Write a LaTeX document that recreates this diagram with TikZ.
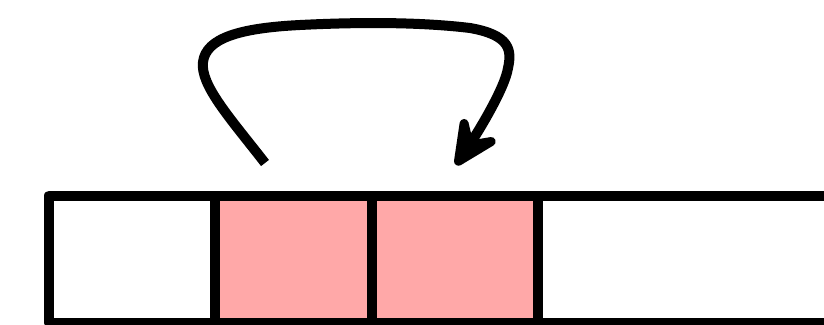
\documentclass[tikz,border=0pt]{standalone}
\usetikzlibrary{positioning,arrows.meta}
\definecolor{cellpink}{RGB}{255,168,168}

\begin{document}
\begin{tikzpicture}[x=1pt,y=-1pt,
	cell/.style={draw, line width=10pt, line join=round, minimum height=127.5pt, inner sep=0pt, outer sep=0pt},
	hot/.style={cell, fill=cellpink},
	jump/.style={line width=10pt, -{Stealth[round,length=64pt,width=60pt,inset=28pt]}}]
	\useasboundingbox (0,0) rectangle (824,324);
	\clip (0,0) rectangle (824,324);    % last cell runs off the page
	\node[cell, minimum width=165.5pt, anchor=west] (c0) at (49,259.25) {};
	\node[hot, minimum width=157.5pt, right=0pt of c0] (c1) {};
	\node[hot, minimum width=165.5pt, right=0pt of c1] (c2) {};
	\node[cell, minimum width=400pt, right=0pt of c2] (c3) {};
	\coordinate (from) at (265,163);
	\coordinate (to) at (456,165);
	\draw[jump] (from) .. controls (230,118) and (200,85) .. (203,62)
		.. controls (206,38) and (240,28) .. (300,25)
		.. controls (360,22) and (420,22) .. (470,28)
		.. controls (510,35) and (512,50) .. (508,68)
		.. controls (505,88) and (478,132) .. (to);
\end{tikzpicture}
\end{document}
